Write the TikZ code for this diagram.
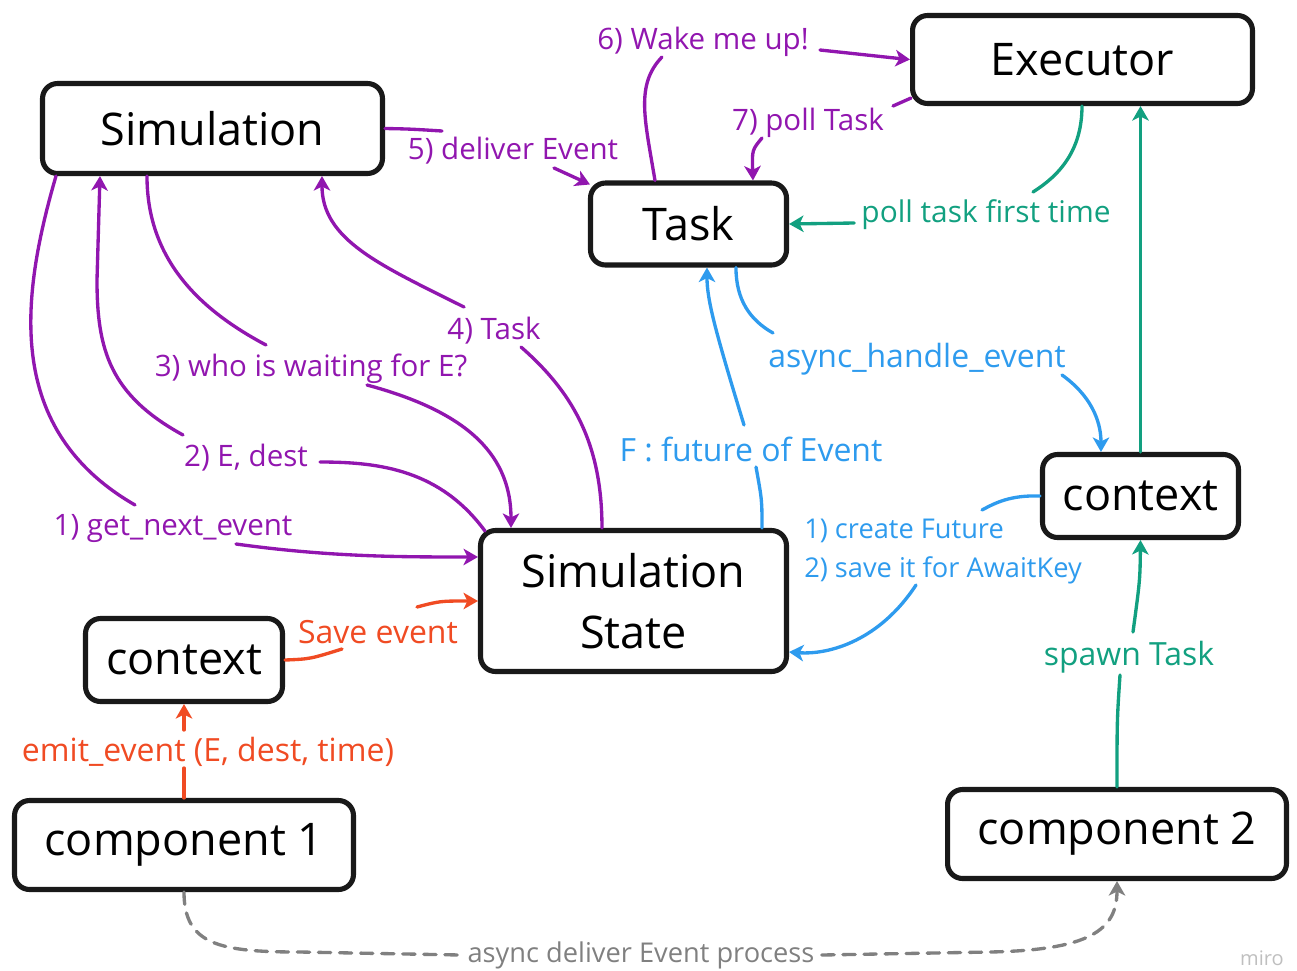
\documentclass[tikz,border=0pt]{standalone}
\usepackage{fontspec}
\setmainfont{Open Sans}
\usetikzlibrary{arrows.meta,calc}

\definecolor{flowpurple}{RGB}{145,22,175}
\definecolor{flowblue}{RGB}{46,155,238}
\definecolor{flowgreen}{RGB}{18,160,128}
\definecolor{floworange}{RGB}{240,75,35}
\definecolor{flowgrey}{RGB}{128,128,128}

\def\boxfont{\fontsize{25.6}{34.7}\selectfont}
\def\lblfont{\fontsize{16.8}{20}\selectfont}
\def\bigfont{\fontsize{18.2}{22}\selectfont}
\def\smallfont{\fontsize{15.5}{22.2}\selectfont}

\begin{document}
\begin{tikzpicture}[x=0.02cm, y=-0.02cm,
    box/.style={draw=black!90, line width=2.9pt, rounded corners=0.3cm, align=center, font=\boxfont, inner sep=0pt},
    lbl/.style={inner sep=0pt, font=\lblfont},
    wire/.style={line width=1.9pt, line cap=round},
    tip/.style={-{Stealth[length=2.9mm,width=3.3mm,inset=0.8mm]}},
    dashline/.style={dash pattern=on 7pt off 5pt}]

    \useasboundingbox (0,0) rectangle (1297,970);

    % boxes
    \node[box, minimum width=6.8cm, minimum height=1.8cm] (sim) at (212.5,128.5) {Simulation};
    \node[box, minimum width=6.8cm, minimum height=1.76cm] (exec) at (1082.5,59.5) {Executor};
    \node[box, minimum width=3.92cm, minimum height=1.64cm] (task) at (688.5,224) {Task};
    \node[box, minimum width=6.12cm, minimum height=2.82cm] (ss) at (633.5,601) {Simulation\\State};
    \node[box, minimum width=3.92cm, minimum height=1.66cm] (ctxr) at (1140.5,496) {context};
    \node[box, minimum width=3.94cm, minimum height=1.66cm] (ctxl) at (184,660) {context};
    \node[box, minimum width=6.78cm, minimum height=1.78cm] (comp1) at (184,845) {component 1};
    \node[box, minimum width=6.78cm, minimum height=1.78cm] (comp2) at (1117,834) {component 2};

    % labels
    \node[lbl, text=flowpurple] (l1) at (173,529) {1) get\_next\_event};
    \node[lbl, text=flowpurple] (l2) at (246,458) {2) E, dest};
    \node[lbl, text=flowpurple] (l3) at (311,369) {3) who is waiting for E?};
    \node[lbl, text=flowpurple] (l4) at (494,331) {4) Task};
    \node[lbl, text=flowpurple] (l5) at (513,151) {5) deliver Event};
    \node[lbl, text=flowpurple] (l6) at (703,42) {6) Wake me up!};
    \node[lbl, text=flowpurple] (l7) at (808,123) {7) poll Task};
    \node[lbl, text=flowgreen, font=\fontsize{17}{20}\selectfont] (lpoll) at (986,215) {poll task first time};
    \node[lbl, text=flowgreen, font=\bigfont] (lspawn) at (1129,657) {spawn Task};
    \node[lbl, text=flowblue, font=\bigfont] (lasync) at (917,359) {async\_handle\_event};
    \node[lbl, text=flowblue, font=\bigfont] (lfut) at (751,449) {F : future of Event};
    \node[lbl, text=flowblue, font=\smallfont, align=left] (lcreate) at (943,552) {1) create Future\\2) save it for AwaitKey};
    \node[lbl, text=floworange, font=\bigfont] (lsave) at (378,632) {Save event};
    \node[lbl, text=floworange, font=\bigfont] (lemit) at (208,752) {emit\_event (E, dest, time)};
    \node[lbl, text=flowgrey, font=\smallfont, inner xsep=4pt] (ldeliv) at (641,955) {async deliver Event process};
    \node[lbl, text=black!25, font=\fontsize{11.4}{12}\selectfont, anchor=base] (miro) at (1262,965) {miro};

    % purple flow
    \draw[wire, flowpurple] ($(sim.south west)+(16,0)$) .. controls (20,300) and (5,430) .. ($(l1.center)+(-38,-24)$);
    \draw[wire, flowpurple, tip] ($(l1.center)+(63,15)$) .. controls (330,557) and (400,557) .. ($(ss.north west)+(0,29)$);
    \draw[wire, flowpurple] ($(ss.north west)+(7,3)$) .. controls (440,470) and (380,462) .. ($(l2.center)+(74,4)$);
    \draw[wire, flowpurple, tip] ($(l2.center)+(-63,-23)$) .. controls (110,395) and (97,350) .. (97,280) -- ($(sim.south west)+(60,0)$);
    \draw[wire, flowpurple] ($(sim.south west)+(107,0)$) .. controls (147,260) and (200,310) .. ($(l3.center)+(-45,-24)$);
    \draw[wire, flowpurple, tip] ($(l3.center)+(56,16)$) .. controls (460,410) and (511,450) .. ($(ss.north west)+(33,0)$);
    \draw[wire, flowpurple] ($(ss.north west)+(124,0)$) .. controls (602,440) and (570,390) .. ($(l4.center)+(27,16)$);
    \draw[wire, flowpurple, tip] ($(l4.center)+(-30,-24)$) .. controls (380,265) and (322,240) .. ($(sim.south west)+(282,0)$);
    \draw[wire, flowpurple] (sim.east) .. controls (410,129) .. ($(l5.center)+(-71,-20)$);
    \draw[wire, flowpurple, tip] ($(l5.center)+(41,17)$) -- ($(task.north west)+(2,4)$);
    \draw[wire, flowpurple] ($(task.north west)+(67,0)$) .. controls (645,120) and (635,85) .. ($(l6.center)+(-41,15)$);
    \draw[wire, flowpurple, tip] ($(l6.center)+(117,8)$) .. controls (860,55) .. (exec.west);
    \draw[wire, flowpurple] ($(exec.south west)+(1,-8)$) -- ($(l7.center)+(85,-17)$);
    \draw[wire, flowpurple, tip] ($(l7.center)+(-46,15)$) .. controls (752,150) .. ($(task.north west)+(165,0)$);

    % green flow
    \draw[wire, flowgreen] ($(exec.south west)+(172,0)$) .. controls (1082,150) and (1060,175) .. ($(lpoll.center)+(47,-23)$);
    \draw[wire, flowgreen, tip] ($(lpoll.west)+(-7,8)$) -- (task.east);
    \draw[wire, flowgreen, tip] (ctxr.north) -- (ctxr.north |- exec.south);
    \draw[wire, flowgreen] (comp2.north) .. controls (1117,720) .. ($(lspawn.center)+(-9,18)$);
    \draw[wire, flowgreen, tip] ($(lspawn.center)+(4,-25)$) .. controls (1140,580) .. (ctxr.south);

    % blue flow
    \draw[wire, flowblue] ($(task.south west)+(148,0)$) .. controls (736,300) and (750,320) .. ($(lasync.center)+(-144,-26)$);
    \draw[wire, flowblue, tip] ($(lasync.center)+(145,16)$) .. controls (1090,395) and (1101,420) .. ($(ctxr.north west)+(61,0)$);
    \draw[wire, flowblue] ($(ss.north west)+(284,0)$) .. controls (762,500) .. ($(lfut.center)+(5,18)$);
    \draw[wire, flowblue, tip] ($(lfut.center)+(-7,-24)$) .. controls (715,330) and (707,300) .. ($(task.south west)+(119,0)$);
    \draw[wire, flowblue] (ctxr.west) .. controls (1010,495) and (995,503) .. ($(lcreate.center)+(39,-42)$);
    \draw[wire, flowblue, tip] ($(lcreate.center)+(-27,33)$) .. controls (880,640) and (830,655) .. ($(ss.east)+(0,51)$);

    % orange flow
    \draw[wire, floworange] (ctxl.east) .. controls (310,659) .. ($(lsave.center)+(-36,17)$);
    \draw[wire, floworange, tip] ($(lsave.center)+(39,-25)$) .. controls (440,601) .. ($(ss.west)+(0,0)$);
    \draw[wire, floworange] (comp1.north) -- ($(lemit.center)+(-24,16)$);
    \draw[wire, floworange, tip] ($(lemit.center)+(-24,-22)$) -- (ctxl.south);

    % grey dashed
    \draw[wire, flowgrey, dashline] (comp1.south) .. controls (184,945) and (220,952) .. (300,952) -- (ldeliv.west);
    \draw[wire, flowgrey, dashline, tip] (ldeliv.east) -- (990,952) .. controls (1090,950) and (1117,930) .. (comp2.south);
\end{tikzpicture}
\end{document}
